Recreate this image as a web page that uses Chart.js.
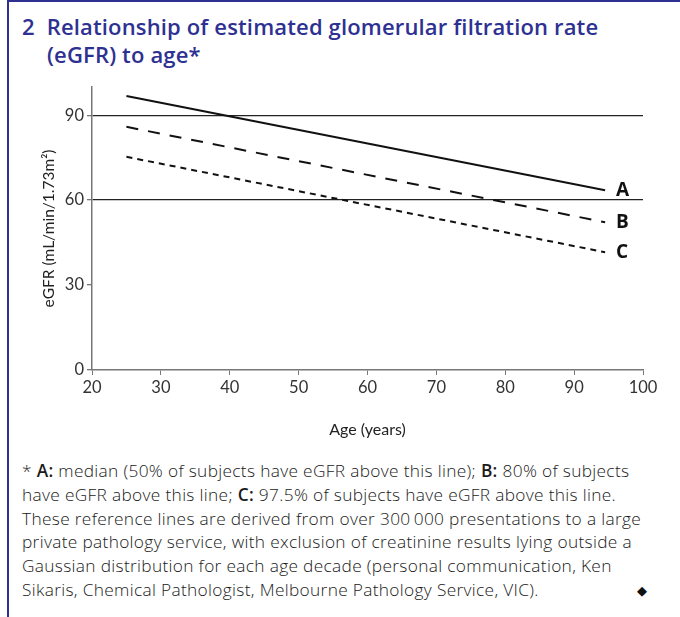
<!DOCTYPE html>
<html>
<head>
<meta charset="utf-8">
<script src="https://cdn.jsdelivr.net/npm/chart.js@4"></script>
<style>
  body { margin: 0; background: #fff; }
  #page { position: relative; width: 680px; height: 617px; overflow: hidden; }
  #frameTop { position: absolute; left: 7px; top: 0; width: 673px; height: 2px; background: #2e3192; }
  #frameLeft { position: absolute; left: 7px; top: 0; width: 2px; height: 617px; background: #2e3192; }
  .title { position: absolute; color: #2e3192; font-family: "Open Sans", sans-serif; font-weight: 600;
           font-size: 22px; white-space: nowrap; letter-spacing: 0.15px; }
  #chartBox { position: absolute; left: 0; top: 74px; width: 680px; height: 376px; }
  #note { position: absolute; left: 22px; top: 459px; font-family: "Open Sans", sans-serif; font-weight: 300;
          font-size: 17.3px; line-height: 23.8px; color: #1a1a1a; white-space: nowrap; letter-spacing: 0.33px; }
  #note b { font-weight: 600; }
  #diamond { position: absolute; left: 637px; top: 583px; font-size: 13px; color: #111; }
</style>
</head>
<body>
<div id="page">
  <div id="frameTop"></div>
  <div id="frameLeft"></div>
  <div class="title" style="left:22px; top:11px;">2<span style="display:inline-block;width:12px"></span>Relationship of estimated glomerular filtration rate</div>
  <div class="title" style="left:47px; top:39px;">(eGFR) to age*</div>
  <div id="chartBox"><canvas id="egfrChart" width="680" height="376"></canvas></div>
  <div id="note">* <b>A:</b> median (50% of subjects have eGFR above this line); <b>B:</b> 80% of subjects<br>have eGFR above this line; <b>C:</b> 97.5% of subjects have eGFR above this line.<br>These reference lines are derived from over 300&#8201;000 presentations to a large<br>private pathology service, with exclusion of creatinine results lying outside a<br>Gaussian distribution for each age decade (personal communication, Ken<br>Sikaris, Chemical Pathologist, Melbourne Pathology Service, VIC).</div>
  <div id="diamond">&#9670;</div>
</div>
<script>
// Data
var ages = [25, 94.5];
var lineA = [96.8, 63.5];   // median
var lineB = [85.9, 52.2];   // 80%
var lineC = [75.3, 41.6];   // 97.5%
var lineLabels = ['A', 'B', 'C'];
var yTicks = [0, 30, 60, 90];
var yGridValues = [60, 90];

function toPoints(vals) {
    return vals.map(function (v, i) { return { x: ages[i], y: v }; });
}

// Put the A/B/C letter just past the end of each line
var endLabels = {
    id: 'endLabels',
    afterDatasetsDraw: function (chart) {
        var c = chart.ctx;
        c.save();
        c.font = 'bold 19px "Open Sans", sans-serif';
        c.fillStyle = '#111';
        c.textBaseline = 'middle';
        chart.data.datasets.forEach(function (ds, i) {
            var pts = chart.getDatasetMeta(i).data;
            var last = pts[pts.length - 1];
            c.fillText(lineLabels[i], last.x + 11, last.y);
        });
        c.restore();
    }
};

var ctx = document.getElementById('egfrChart').getContext('2d');

var egfrChart = new Chart(ctx, {
    type: 'line',
    data: {
        datasets: [{
            label: 'A',
            data: toPoints(lineA),
            borderColor: '#111',
            borderWidth: 2,
            pointRadius: 0
        }, {
            label: 'B',
            data: toPoints(lineB),
            borderColor: '#111',
            borderWidth: 2,
            borderDash: [12, 10],
            pointRadius: 0
        }, {
            label: 'C',
            data: toPoints(lineC),
            borderColor: '#111',
            borderWidth: 2,
            borderDash: [6, 5],
            pointRadius: 0
        }]
    },
    options: {
        responsive: false,
        animation: false,
        layout: { padding: { top: 0, right: 37, left: 36, bottom: 0 } },
        plugins: { legend: { display: false }, tooltip: { enabled: false } },
        scales: {
            x: {
                type: 'linear',
                min: 20,
                max: 100,
                ticks: { stepSize: 10, color: '#333', font: { family: 'Lato', size: 16.5 }, padding: 3 },
                grid: { drawOnChartArea: false, tickLength: 5, tickColor: '#777' },
                border: { color: '#777', width: 1.5 },
                title: { display: true, text: 'Age (years)', color: '#222', font: { family: 'Lato', size: 16 }, padding: { top: 4, bottom: 11 } },
                afterFit: function (scale) { scale.height = 80; }
            },
            y: {
                min: 0,
                max: 100,
                afterBuildTicks: function (scale) {
                    scale.ticks = yTicks.map(function (v) { return { value: v }; });
                },
                ticks: { color: '#333', font: { family: 'Lato', size: 16.5 }, padding: 3 },
                grid: {
                    tickLength: 5,
                    tickColor: '#777',
                    lineWidth: 1.3,
                    color: function (c) {
                        return c.tick && yGridValues.indexOf(c.tick.value) >= 0 ? '#222' : 'rgba(0,0,0,0)';
                    }
                },
                border: { color: '#777', width: 1.5 },
                title: { display: true, text: 'eGFR (mL/min/1.73m\u00B2)', color: '#222', font: { family: 'Lato', size: 15.5 } },
                afterFit: function (scale) { scale.width = 56; }
            }
        }
    },
    plugins: [endLabels]
});
</script>
</body>
</html>
